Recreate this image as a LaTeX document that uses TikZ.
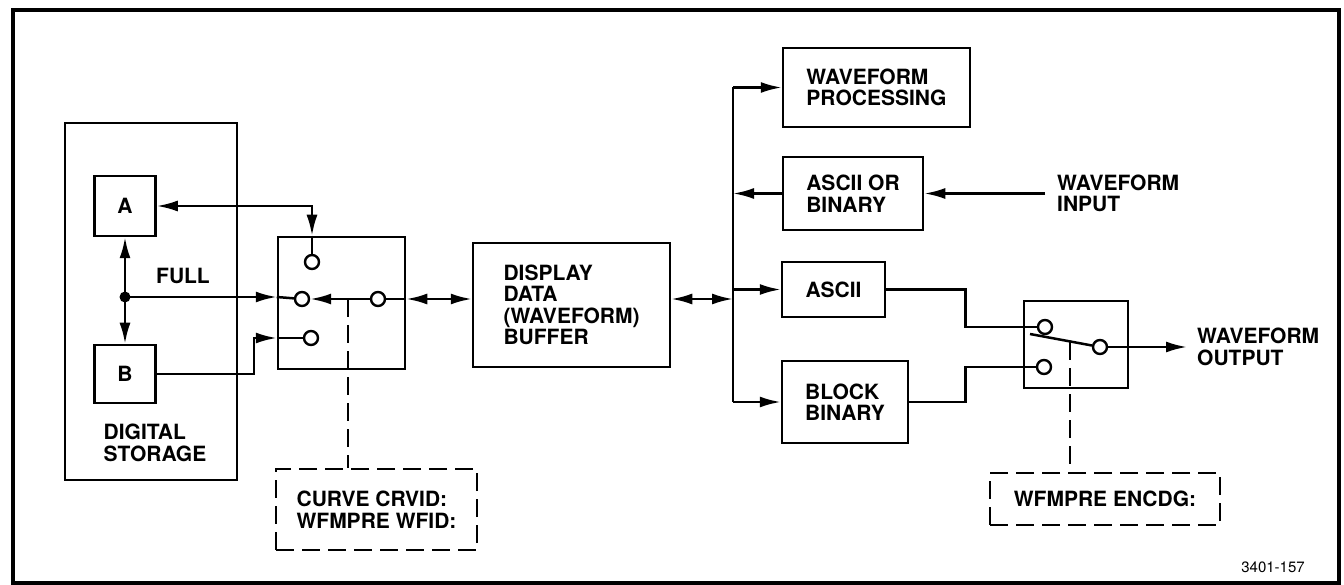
\documentclass[tikz,border=0pt]{standalone}
\usepackage{fontspec}
\setmainfont{TeX Gyre Heros}
\usetikzlibrary{arrows.meta}
\begin{document}
\begin{tikzpicture}[x=1pt,y=-1pt,
  every node/.style={font=\fontsize{21}{21.5}\selectfont\bfseries},
  blk/.style={draw, line width=2.5pt, inner sep=0pt, align=left},
  pin/.style={draw, circle, line width=2.4pt, minimum size=14pt, inner sep=0pt},
  conn/.style={line width=2.5pt},
  tip/.tip={Latex[length=21pt,width=11pt]},
  arr/.style={conn, -tip},
  darr/.style={conn, tip-tip},
  dsh/.style={line width=2.5pt, dash pattern=on 18pt off 8pt},
  lbl/.style={align=left, inner sep=0pt}
]
\useasboundingbox (0,0) rectangle (1344,585);
\draw[line width=4pt] (13,10) rectangle (1339,583);

% digital storage
\node[blk, minimum width=172pt, minimum height=357pt] (ds) at (151,301.5) {};
\node[blk, align=center, minimum width=61pt, minimum height=60pt] (A) at (125,206) {A};
\node[blk, align=center, minimum width=61pt, minimum height=58pt] (B) at (125,374) {B};
\node (full) at (183,276) {FULL};
\node[lbl] (dst) at (155,443) {DIGITAL\\STORAGE};
\coordinate (J) at (125,297);
\fill (J) circle (5.5pt);

% switch 1
\node[blk, minimum width=127pt, minimum height=132pt] (sw1) at (341.5,303) {};
\node[pin] (c1t) at (312,262) {};
\node[pin] (c1m) at (302,299) {};
\node[pin] (c1r) at (378,299) {};
\node[pin] (c1b) at (311,338) {};

\draw[arr] (J) -- (A.south);
\draw[arr] (J) -- (B.north);
\draw[darr] (A.east) -| (sw1.north -| c1t);
\draw[conn] (sw1.north -| c1t) -- (c1t);
\draw[arr] (J) -- (J -| sw1.west);
\draw[conn] (J -| sw1.west) -- (c1m);
\draw[arr] (c1r) -- (c1m);
\draw[arr] (B.east) -- ++(97,0) |- (sw1.west |- c1b);
\draw[conn] (sw1.west |- c1b) -- (c1b);

% buffer
\node[blk, minimum width=197pt, minimum height=124pt] (buf) at (571.5,305) {DISPLAY\\DATA\\(WAVEFORM)\\BUFFER};
\draw[conn] (c1r) -- (c1r -| sw1.east);
\draw[darr] (c1r -| sw1.east) -- (c1r -| buf.west);

% bus
\coordinate (bt) at (733,87.5);
\coordinate (bb) at (733,402);
\draw[conn] (bt) -- (bb);
\draw[darr] (c1r -| buf.east) -- (c1r -| bt);

\node[blk, minimum width=187pt, minimum height=79pt] (wp) at (876.5,87.5) {WAVEFORM\\PROCESSING};
\draw[arr] (bt) -- (wp.west);

\node[blk, minimum width=140pt, minimum height=73pt] (aob) at (853,193.5) {ASCII OR\\BINARY};
\draw[arr] (aob.west) -- (aob.west -| bt);
\node[lbl, anchor=west] (wi) at (1057,193.5) {WAVEFORM\\INPUT};
\draw[arr] ([xshift=-12pt]wi.west) -- (aob.east);

\node[blk, minimum width=103pt, minimum height=55pt] (asc) at (833.5,289.5) {ASCII};
\draw[arr] (asc.west -| bt) -- (asc.west);

\node[blk, minimum width=126pt, minimum height=82pt] (bbx) at (845,402) {BLOCK\\BINARY};
\draw[arr] (bb) -- (bbx.west);

% switch 2
\node[blk, minimum width=104pt, minimum height=87pt] (sw2) at (1076,344.5) {};
\node[pin] (c2t) at (1045,327) {};
\node[pin] (c2b) at (1044,367) {};
\node[pin] (c2r) at (1100,347) {};
\draw[conn] (asc.east) -- ++(79,0) |- (c2t);
\draw[conn] (bbx.east) -- ++(56,0) |- (c2b);
\coordinate (lev) at (1030,334);
\draw[conn] (lev) -- (c2r);
\node[lbl, anchor=west] (wo) at (1197,347) {WAVEFORM\\OUTPUT};
\draw[arr] (c2r) -- ([xshift=-10pt]wo.west);

% dashed boxes
\node[blk, dsh, align=center, minimum width=230pt, minimum height=52pt] (db2) at (1105,499) {WFMPRE ENCDG:};
\coordinate (lp) at (1070,342);
\draw[dsh] (lp) -- (lp |- db2.north);
\node[blk, dsh, minimum width=201pt, minimum height=81pt] (db1) at (376.5,509.5) {CURVE CRVID:\\WFMPRE WFID:};
\coordinate (dp) at (348,299);
\draw[dsh] (dp) -- (dp |- db1.north);

\node[font=\fontsize{15}{15}\selectfont] (num) at (1273,567) {3401-157};
\end{tikzpicture}
\end{document}
